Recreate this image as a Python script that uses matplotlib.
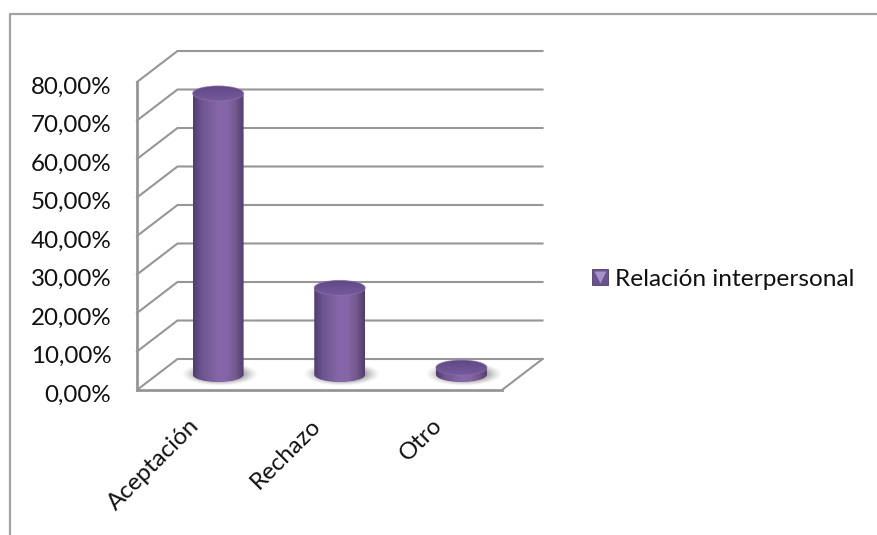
import numpy as np
import matplotlib
matplotlib.use("Agg")
import matplotlib.pyplot as plt
from matplotlib.lines import Line2D
from matplotlib.patches import Ellipse, PathPatch
from matplotlib.path import Path
from matplotlib.colors import LinearSegmentedColormap
from matplotlib.legend_handler import HandlerTuple
from matplotlib.transforms import ScaledTranslation

categories = ["Aceptación", "Rechazo", "Otro"]
values = [73.0, 22.5, 1.8]
yticks = [0, 10, 20, 30, 40, 50, 60, 70, 80]
ytick_labels = ["0,00%", "10,00%", "20,00%", "30,00%", "40,00%", "50,00%", "60,00%", "70,00%", "80,00%"]
series_name = "Relación interpersonal"

W, H = 877, 535
plt.rcParams["font.family"] = ["Lato", "DejaVu Sans"]
fig = plt.figure(figsize=(W / 100, H / 100), dpi=100)
L, R, B, T = 137, 502, 390, 82
ax = fig.add_axes([L / W, 1 - B / H, (R - L) / W, (B - T) / H])
ax.set_xlim(-0.5, 2.5)
ax.set_ylim(0, 80)
pxx = 3 / (R - L)
pxy = 80 / (B - T)
DX = 40.5 * pxx
DY = 31 * pxy
GRID = "#969696"
FS = 17.4

# chart frame
fig.add_artist(Line2D([9.5 / W, 9.5 / W, 1], [0, 1 - 13.5 / H, 1 - 13.5 / H], color="#a3a3a3", lw=1.6))

# walls and gridlines
for t in yticks:
    ax.plot([-0.5, -0.5 + DX, 2.5 + DX], [t, t + DY, t + DY], color=GRID, lw=1.5, clip_on=False, zorder=1)
ax.plot([2.5, 2.5 + DX], [0, DY], color=GRID, lw=1.5, clip_on=False, zorder=1)

for s in ["top", "right"]:
    ax.spines[s].set_visible(False)
for s in ["left", "bottom"]:
    ax.spines[s].set_color(GRID)
    ax.spines[s].set_linewidth(2.0)
    ax.spines[s].set_zorder(1.5)
ax.patch.set_alpha(0)

ax.set_yticks(yticks, ytick_labels, fontsize=FS, color="#111111")
ax.set_xticks(range(3), categories, fontsize=FS, color="#111111", rotation=45, ha="right", rotation_mode="anchor")
ax.tick_params(axis="y", length=0, pad=18.5)
ax.tick_params(axis="x", length=0, pad=17)
shift = ScaledTranslation(0, -3 / 100, fig.dpi_scale_trans)
for lab in ax.get_yticklabels():
    lab.set_transform(lab.get_transform() + shift)
shift_x = ScaledTranslation(-10 / 100, -1 / 100, fig.dpi_scale_trans)
for lab in ax.get_xticklabels():
    lab.set_transform(lab.get_transform() + shift_x)

cyl = LinearSegmentedColormap.from_list("cyl", ["#503d6e", "#6c5490", "#7a5e9c", "#8767aa", "#8565a8", "#75598f", "#503d6e"])
top = LinearSegmentedColormap.from_list("top", ["#5f4882", "#6a5190", "#755a9a"])
grad = np.linspace(0, 1, 200).reshape(1, -1)
yy, xx = np.mgrid[-1:1:120j, -1:1:200j]
rr = np.sqrt(xx ** 2 + yy ** 2)
shadow = np.zeros((120, 200, 4))
shadow[..., :3] = 0.5
shadow[..., 3] = np.clip((1 - rr) / 0.45, 0, 1) ** 1.4 * 0.8

bw = 51 * pxx
eh = 15 * pxy
off = DX / 2
for i, v in enumerate(values):
    cx = i + off
    fy = DY / 2
    # floor shadow
    ax.imshow(shadow, extent=[cx - bw * 0.76 + 2 * pxx, cx + bw * 0.76 + 2 * pxx, fy - eh * 0.8, fy + eh * 0.8],
              aspect="auto", zorder=2, clip_on=False, interpolation="bilinear")
    h = v
    k = 0.5522847
    a, b = bw / 2, eh / 2
    verts = [(cx - a, fy + h), (cx - a, fy), (cx - a, fy - k * b), (cx - k * a, fy - b), (cx, fy - b),
             (cx + k * a, fy - b), (cx + a, fy - k * b), (cx + a, fy), (cx + a, fy + h), (cx - a, fy + h)]
    codes = [Path.MOVETO, Path.LINETO, Path.CURVE4, Path.CURVE4, Path.CURVE4,
             Path.CURVE4, Path.CURVE4, Path.CURVE4, Path.LINETO, Path.CLOSEPOLY]
    body = PathPatch(Path(verts, codes), transform=ax.transData, fc="none", ec="none")
    ax.add_patch(body)
    body.set_clip_on(False)
    im = ax.imshow(grad, extent=[cx - a, cx + a, fy - b, fy + h], cmap=cyl, aspect="auto", zorder=3)
    im.set_clip_box(fig.bbox)
    im.set_clip_path(body)
    # top cap
    cap = Ellipse((cx, fy + h), bw, eh, transform=ax.transData, fc="none", ec="none")
    ax.add_patch(cap)
    cap.set_clip_on(False)
    im2 = ax.imshow(np.linspace(0, 1, 100).reshape(-1, 1), extent=[cx - a, cx + a, fy + h - b, fy + h + b],
                    cmap=top, aspect="auto", zorder=4, origin="upper")
    im2.set_clip_box(fig.bbox)
    im2.set_clip_path(cap)
    ax.add_patch(Ellipse((cx, fy + h), bw, eh, fc="none", ec="#8a6fae", lw=0.7, alpha=0.7, zorder=4.5, clip_on=False))

ax.set_xlim(-0.5, 2.5)
ax.set_ylim(0, 80)

sq = Line2D([], [], marker="s", ms=11, mfc="#6a5290", mec="#4f3c6c", mew=0.6, ls="none")
tri = Line2D([], [], marker="v", ms=8.5, mfc="#a792c8", mec="none", ls="none")
fig.legend([(sq, tri)], [series_name], handler_map={tuple: HandlerTuple(ndivide=1)}, frameon=False,
           loc="center left", bbox_to_anchor=(566 / W, 1 - 279 / H), fontsize=17.6, handlelength=1.0,
           handletextpad=0.12, labelcolor="#111111", borderpad=0.4)

fig.savefig("out.png", dpi=100, facecolor="white")
